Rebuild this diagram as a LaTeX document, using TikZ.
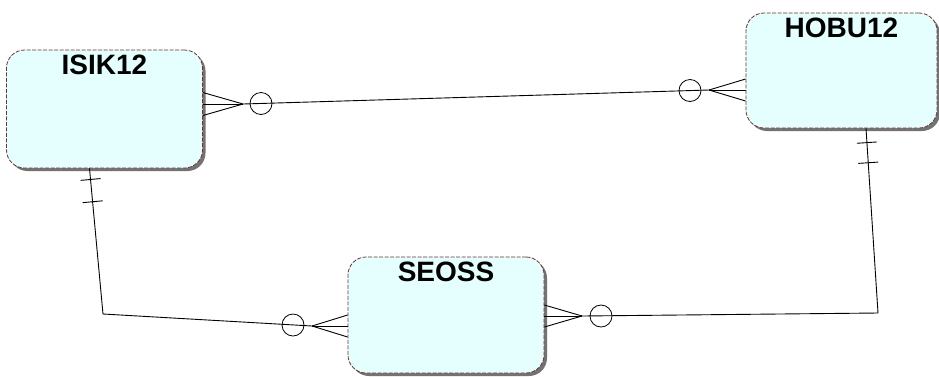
\documentclass[tikz,border=0pt]{standalone}
\usepackage{fontspec}
\setmainfont{Liberation Sans}
\usetikzlibrary{shadows,calc}
\definecolor{boxfill}{RGB}{229,255,255}
\definecolor{boxline}{RGB}{110,50,50}

\begin{document}
\begin{tikzpicture}[x=1pt,y=-1pt,thick,
                    entity/.style={rectangle, rounded corners=18pt, draw=boxline, dash pattern=on 4pt off 1.5pt, line width=0.8pt, fill=boxfill,
                                   drop shadow={shadow xshift=3pt, shadow yshift=-3pt, fill=black!55, opacity=1}},
                    title/.style={font=\fontsize{28}{30}\selectfont\bfseries, anchor=north, yshift=-2pt},
                    ring/.style={circle, draw, minimum size=22pt, inner sep=0pt},
                    tick/.style={draw, sloped, minimum width=0pt, minimum height=20pt, inner sep=0pt},
                    link/.style={line width=0.9pt}]
  \useasboundingbox (0,0) rectangle (939,376);

  \node (Isik) [entity, minimum width=196pt, minimum height=118pt, label={[title]north:ISIK12}] at (104.5,109) {};
  \node (Hobu) [entity, minimum width=191pt, minimum height=115pt, label={[title]north:HOBU12}] at (841.5,70.5) {};
  \node (Seoss) [entity, minimum width=196pt, minimum height=116pt, label={[title]north:SEOSS}] at (446,315) {};

  % many ends with rings
  \coordinate (IsikFoot) at (243,104);
  \coordinate (HobuFoot) at (709,90);
  \coordinate (SeossFootL) at (312,326);
  \coordinate (SeossFootR) at (582,316);
  \node (IsikRing) [ring] at (261,103.5) {};
  \node (HobuRing) [ring] at (690,90.5) {};
  \node (SeossRingL) [ring] at (293,325) {};
  \node (SeossRingR) [ring] at (601,316) {};

  % corners of the lower links
  \coordinate (IsikBot) at ($(Isik.south)+(-15,0)$);
  \coordinate (HobuBot) at ($(Hobu.south)+(24.5,0)$);
  \coordinate (BendL) at (103,314);
  \coordinate (BendR) at (878,313);

  \begin{scope}[link]
    % ISIK12 -- HOBU12
    \draw (IsikFoot) -- (HobuFoot);
    \foreach \d in {-11.5,0,11.5}
      \draw ($(Isik.east |- IsikFoot)+(0,\d)$) -- (IsikFoot);
    \foreach \d in {-11,0,11}
      \draw ($(Hobu.west |- HobuFoot)+(0,\d)$) -- (HobuFoot);

    % ISIK12 -- SEOSS
    \draw (IsikBot) -- node[tick, pos=0.076] {} node[tick, pos=0.229] {} (BendL) -- (SeossFootL);
    \foreach \d in {-11,0,11}
      \draw ($(Seoss.west |- SeossFootL)+(0,\d)$) -- (SeossFootL);

    % SEOSS -- HOBU12
    \draw (HobuBot) -- node[tick, pos=0.077] {} node[tick, pos=0.186] {} (BendR) -- (SeossFootR);
    \foreach \d in {-11,0,11}
      \draw ($(Seoss.east |- SeossFootR)+(0,\d)$) -- (SeossFootR);
  \end{scope}
\end{tikzpicture}
\end{document}
